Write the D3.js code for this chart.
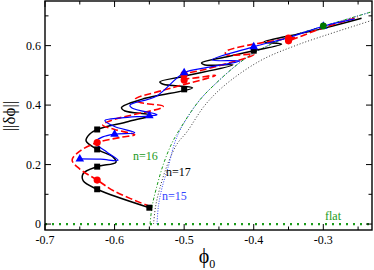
<!DOCTYPE html>
<html><head><meta charset="utf-8">
<script src="https://cdn.jsdelivr.net/npm/d3@7"></script>
<style>body{margin:0;background:#fff}svg{display:block}</style></head>
<body><svg id="c" width="374" height="270"></svg>
<script>
// ---- data ----
const xTicks = [-0.7, -0.6, -0.5, -0.4, -0.3];
const xTickLabels = ["-0.7", "-0.6", "-0.5", "-0.4", "-0.3"];
const yTicks = [0, 0.2, 0.4, 0.6];
const yTickLabels = ["0", "0.2", "0.4", "0.6"];

// n=17 branch (black solid)
const blackCurve = [
  [-0.550,0.055],[-0.625,0.117],[-0.645,0.145],[-0.645,0.170],[-0.625,0.193],
  [-0.598,0.208],[-0.602,0.225],[-0.625,0.251],[-0.641,0.280],[-0.636,0.302],
  [-0.625,0.318],[-0.580,0.345],[-0.548,0.366],[-0.585,0.380],[-0.590,0.392],
  [-0.560,0.420],[-0.488,0.458],[-0.530,0.470],[-0.535,0.478],[-0.500,0.497],
  [-0.430,0.535],[-0.470,0.535],[-0.475,0.542],[-0.440,0.562],[-0.400,0.583],
  [-0.360,0.605],[-0.385,0.612],[-0.350,0.632],[-0.300,0.658],[-0.245,0.692]
];
// n=16 branch (red dashed)
const redCurve = [
  [-0.548,0.058],[-0.600,0.110],[-0.625,0.148],[-0.650,0.185],[-0.661,0.215],
  [-0.650,0.245],[-0.625,0.274],[-0.590,0.292],[-0.571,0.300],[-0.600,0.318],
  [-0.617,0.333],[-0.600,0.352],[-0.530,0.395],[-0.565,0.410],[-0.570,0.420],
  [-0.530,0.450],[-0.455,0.500],[-0.500,0.490],[-0.505,0.500],[-0.470,0.520],
  [-0.400,0.570],[-0.440,0.570],[-0.440,0.580],[-0.350,0.625],[-0.340,0.630],
  [-0.350,0.616],[-0.300,0.660],[-0.250,0.695]
];
// n=15 branch (blue solid)
const blueCurve = [
  [-0.651,0.219],[-0.620,0.218],[-0.595,0.214],[-0.610,0.240],[-0.628,0.275],
  [-0.617,0.293],[-0.600,0.302],[-0.571,0.307],[-0.600,0.328],[-0.614,0.348],
  [-0.590,0.357],[-0.550,0.364],[-0.539,0.368],[-0.575,0.390],[-0.578,0.400],
  [-0.540,0.430],[-0.500,0.509],[-0.470,0.525],[-0.420,0.548],[-0.460,0.552],
  [-0.400,0.596],[-0.350,0.627],[-0.300,0.665],[-0.255,0.690]
];
// asymptotic curves
const green16 = [[-0.549,0],[-0.546,0.06],[-0.540,0.12],[-0.530,0.20],[-0.518,0.27],
  [-0.506,0.32],[-0.480,0.41],[-0.458,0.465],[-0.410,0.56],[-0.360,0.62],[-0.300,0.665],
  [-0.250,0.700],[-0.230,0.714]];
const black17 = [[-0.544,0],[-0.541,0.06],[-0.535,0.12],[-0.524,0.20],[-0.510,0.27],
  [-0.496,0.31],[-0.470,0.40],[-0.440,0.47],[-0.390,0.55],[-0.340,0.60],[-0.290,0.64],
  [-0.250,0.67],[-0.230,0.685]];
const blue15 = [[-0.539,0],[-0.537,0.06],[-0.532,0.12],[-0.522,0.20],[-0.514,0.27],
  [-0.505,0.32],[-0.480,0.41],[-0.458,0.465],[-0.410,0.56],[-0.360,0.62],[-0.300,0.665],
  [-0.250,0.700],[-0.230,0.714]];
const flat = [[-0.7,0],[-0.23,0]];

const blackSquares = [[-0.55,0.055],[-0.625,0.117],[-0.625,0.193],[-0.625,0.251],[-0.625,0.318],[-0.5,0.453],[-0.4,0.583]];
const redCircles = [[-0.625,0.148],[-0.625,0.274],[-0.5,0.484],[-0.5,0.503],[-0.35,0.616],[-0.35,0.625]];
const blueTriangles = [[-0.65,0.219],[-0.6,0.302],[-0.55,0.364],[-0.5,0.509],[-0.4,0.596],[-0.3,0.665]];
const greenCircles = [[-0.3,0.666]];

// ---- layout ----
const svg = d3.select("#c");
const L = 45, R = 372, T = 1, B = 230;
const x = d3.scaleLinear().domain([-0.7, -0.23]).range([L, R]);
const y = d3.scaleLinear().domain([-0.02, 0.75]).range([B, T]);
const font = "'Liberation Serif','Times New Roman',serif";

svg.append("defs").append("clipPath").attr("id","clip")
  .append("rect").attr("x",L).attr("y",T).attr("width",R-L).attr("height",B-T);
const g = svg.append("g").attr("clip-path","url(#clip)");

const smooth = d3.line().x(d=>x(d[0])).y(d=>y(d[1])).curve(d3.curveCatmullRom.alpha(0.5));

g.append("path").datum(flat).attr("d", smooth).attr("fill","none")
  .attr("stroke","#1a9a1a").attr("stroke-width",2.2).attr("stroke-dasharray","2,5");
g.append("path").datum(black17).attr("d", smooth).attr("fill","none")
  .attr("stroke","#333").attr("stroke-width",1).attr("stroke-dasharray","1,2");
g.append("path").datum(blue15).attr("d", smooth).attr("fill","none")
  .attr("stroke","#3344ff").attr("stroke-width",1).attr("stroke-dasharray","1,1.5");
g.append("path").datum(green16).attr("d", smooth).attr("fill","none")
  .attr("stroke","#1a9a1a").attr("stroke-width",1).attr("stroke-dasharray","3,2,1,2");

g.append("path").datum(blackCurve).attr("d", smooth).attr("fill","none")
  .attr("stroke","#000").attr("stroke-width",1.5);
g.append("path").datum(redCurve).attr("d", smooth).attr("fill","none")
  .attr("stroke","#ff0000").attr("stroke-width",1.6).attr("stroke-dasharray","7,3");
g.append("path").datum(blueCurve).attr("d", smooth).attr("fill","none")
  .attr("stroke","#0000ff").attr("stroke-width",1.2);

// markers
g.selectAll(".sq").data(blackSquares).join("rect")
  .attr("x",d=>x(d[0])-3).attr("y",d=>y(d[1])-3).attr("width",6).attr("height",6).attr("fill","#000");
g.selectAll(".rc").data(redCircles).join("circle")
  .attr("cx",d=>x(d[0])).attr("cy",d=>y(d[1])).attr("r",3.6).attr("fill","#ff0000");
const tri = d3.symbol().type(d3.symbolTriangle).size(32);
g.selectAll(".bt").data(blueTriangles).join("path")
  .attr("transform",d=>`translate(${x(d[0])},${y(d[1])})`).attr("d",tri).attr("fill","#0000ff");
g.selectAll(".gc").data(greenCircles).join("circle")
  .attr("cx",d=>x(d[0])).attr("cy",d=>y(d[1])).attr("r",3.4).attr("fill","#007700");

// axes
svg.append("rect").attr("x",L).attr("y",T).attr("width",R-L).attr("height",B-T)
  .attr("fill","none").attr("stroke","#000").attr("stroke-width",1.4);
const xMinor = d3.range(-0.65, -0.22, 0.1);
const yMinor = [0.1,0.3,0.5,0.7];
function tickLines(vals, len, axis){
  vals.forEach(v=>{
    if(axis==="x"){
      svg.append("line").attr("x1",x(v)).attr("x2",x(v)).attr("y1",B).attr("y2",B-len).attr("stroke","#000").attr("stroke-width",1);
      svg.append("line").attr("x1",x(v)).attr("x2",x(v)).attr("y1",T).attr("y2",T+len).attr("stroke","#000").attr("stroke-width",1);
    } else {
      svg.append("line").attr("y1",y(v)).attr("y2",y(v)).attr("x1",L).attr("x2",L+len).attr("stroke","#000").attr("stroke-width",1);
      svg.append("line").attr("y1",y(v)).attr("y2",y(v)).attr("x1",R).attr("x2",R-len).attr("stroke","#000").attr("stroke-width",1);
    }
  });
}
tickLines(xTicks,6,"x"); tickLines(xMinor,3.5,"x");
tickLines(yTicks,6,"y"); tickLines(yMinor,3.5,"y");

svg.selectAll(".xl").data(xTicks).join("text")
  .attr("x",d=>x(d)).attr("y",244).attr("text-anchor","middle")
  .attr("font-family",font).attr("font-size",12).text((d,i)=>xTickLabels[i]);
svg.selectAll(".yl").data(yTicks).join("text")
  .attr("x",41).attr("y",d=>y(d)+4).attr("text-anchor","end")
  .attr("font-family",font).attr("font-size",12).text((d,i)=>yTickLabels[i]);

// titles
const xt = svg.append("text").attr("x",207).attr("y",263).attr("text-anchor","middle")
  .attr("font-family",font).attr("font-size",20);
xt.append("tspan").text("\u03d5");
xt.append("tspan").attr("font-size",12).attr("dy",5).text("0");
svg.append("text").attr("transform","translate(15,116) rotate(-90)").attr("text-anchor","middle")
  .attr("font-family",font).attr("font-size",17).text("||\u03b4\u03d5||");

// annotations
svg.append("text").attr("x",133).attr("y",160).attr("font-family",font).attr("font-size",12).attr("fill","#1a9a1a").text("n=16");
svg.append("text").attr("x",166).attr("y",176).attr("font-family",font).attr("font-size",12).attr("fill","#000").text("n=17");
svg.append("text").attr("x",162).attr("y",200).attr("font-family",font).attr("font-size",12).attr("fill","#3344ff").text("n=15");
svg.append("text").attr("x",325).attr("y",220).attr("font-family",font).attr("font-size",12).attr("fill","#1a9a1a").text("flat");
</script></body></html>
